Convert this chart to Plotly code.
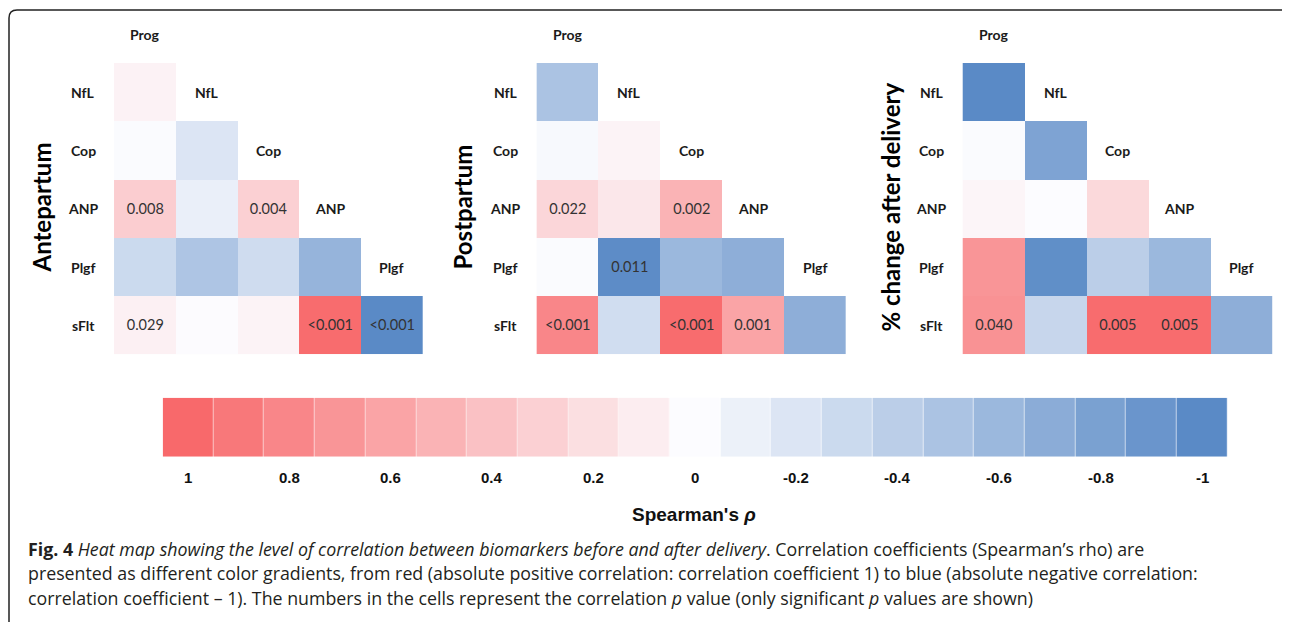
import plotly.graph_objects as go

# The page places the figure 8px in from the top-left corner; all positions
# below are given in window pixels and converted with xp()/yp().
OX, OY = 8, 8
W, H = 1290 - OX, 622 - OY

# ---------------- data ----------------
labels = ["Prog", "NfL", "Cop", "ANP", "Plgf", "sFlt"]
panel_titles = ["Antepartum", "Postpartum", "% change after delivery"]

# lower-triangle Spearman rho, rows NfL..sFlt, columns Prog..(row-1)
ante_rho = [
    [0.07],
    [-0.01, -0.20],
    [0.32, -0.11, 0.30],
    [-0.30, -0.48, -0.28, -0.63],
    [0.08, 0.01, 0.06, 0.98, -1.00],
]
ante_p = [
    [""],
    ["", ""],
    ["0.008", "", "0.004"],
    ["", "", "", ""],
    ["0.029", "", "", "<0.001", "<0.001"],
]

post_rho = [
    [-0.50],
    [-0.03, 0.06],
    [0.26, 0.14, 0.50],
    [-0.01, -0.98, -0.60, -0.68],
    [0.80, -0.27, 0.98, 0.60, -0.68],
]
post_p = [
    [""],
    ["", ""],
    ["0.022", "", "0.002"],
    ["", "0.011", "", ""],
    ["<0.001", "", "<0.001", "0.001", ""],
]

chg_rho = [
    [-1.00],
    [-0.01, -0.78],
    [0.05, 0.00, 0.24],
    [0.70, -0.96, -0.40, -0.60],
    [0.72, -0.33, 0.98, 0.98, -0.68],
]
chg_p = [
    [""],
    ["", ""],
    ["", "", ""],
    ["", "", "", ""],
    ["0.040", "", "0.005", "0.005", ""],
]

cb_values = [1.0, 0.9, 0.8, 0.7, 0.6, 0.5, 0.4, 0.3, 0.2, 0.1, 0.0,
             -0.1, -0.2, -0.3, -0.4, -0.5, -0.6, -0.7, -0.8, -0.9, -1.0]
cb_tick_labels = ["1", "0.8", "0.6", "0.4", "0.2", "0", "-0.2", "-0.4", "-0.6", "-0.8", "-1"]
cb_tick_pos = [0, 2, 4, 6, 8, 10, 12, 14, 16, 18, 20]

# ---------------- styling ----------------
BLUE, WHITE, RED = "#5A8AC6", "#FCFCFF", "#F8696B"
cscale = [[0, BLUE], [0.5, WHITE], [1, RED]]

LAB_FONT = "Lato"
CELL_FONT = "Lato"


def xp(px):
    return (px - OX) / W


def yp(py):
    return 1 - (py - OY) / H


# panel geometry in pixels: (left of column -1, right of last column)
panels = [
    (ante_rho, ante_p, (52.3, 422.7), 41),
    (post_rho, post_p, (474.8, 846.0), 462),
    (chg_rho, chg_p, (900.8, 1272.3), 890),
]
ROW_TOP, ROW_BOT = 5.1, 354.3          # top of label row, bottom of sFlt row
ROW_H = (ROW_BOT - ROW_TOP) / 6
Y_TOP = max(ROW_TOP, OY)                 # visible part starts at the figure top
Y_RANGE = [5.5, -0.5 + (Y_TOP - ROW_TOP) / ROW_H]
TITLE_Y = 207.5

fig = go.Figure()
annotations = []

for i, (rho, pv, (xl, xr), tx) in enumerate(panels):
    n = i + 1
    ax = "" if n == 1 else str(n)
    z = []
    txt = []
    for r in range(len(labels)):
        zr, tr = [], []
        for c in range(len(labels) - 1):
            if r >= 1 and c < r:
                zr.append(rho[r - 1][c])
                tr.append(pv[r - 1][c])
            else:
                zr.append(None)
                tr.append("")
        z.append(zr)
        txt.append(tr)
    fig.add_trace(go.Heatmap(
        z=z, x=list(range(len(labels) - 1)), y=list(range(len(labels))),
        text=txt, texttemplate="%{text}",
        textfont=dict(family=CELL_FONT, size=14.5, color="#333333"),
        colorscale=cscale, zmin=-1, zmax=1, showscale=False,
        hoverinfo="skip", xaxis="x" + ax, yaxis="y" + ax,
    ))
    fig.update_layout(**{
        "xaxis" + ax: dict(domain=[xp(xl), xp(xr)], range=[-1.5, 4.5],
                           visible=False, fixedrange=True),
        "yaxis" + ax: dict(domain=[yp(ROW_BOT), yp(Y_TOP)], range=Y_RANGE,
                           visible=False, fixedrange=True),
    })
    # diagonal labels
    for k in range(len(labels) - 1):
        annotations.append(dict(
            x=k, y=k, xref="x" + ax, yref="y" + ax, text="<b>%s</b>" % labels[k],
            showarrow=False, font=dict(family=LAB_FONT, size=14, color="#1a1a1a"),
            xanchor="center", yanchor="middle"))
    # row labels
    for r in range(1, len(labels)):
        annotations.append(dict(
            x=-1, y=r, xref="x" + ax, yref="y" + ax, text="<b>%s</b>" % labels[r],
            showarrow=False, font=dict(family=LAB_FONT, size=14, color="#1a1a1a"),
            xanchor="center", yanchor="middle"))
    # panel title
    annotations.append(dict(
        x=xp(tx), y=yp(TITLE_Y), xref="paper", yref="paper",
        text="<b>%s</b>" % panel_titles[i], textangle=-90, showarrow=False,
        font=dict(family=LAB_FONT, size=24, color="#000000"),
        xanchor="center", yanchor="middle"))

# ---------------- colour key ----------------
fig.add_trace(go.Heatmap(
    z=[cb_values], x=list(range(len(cb_values))), y=[0],
    colorscale=cscale, zmin=-1, zmax=1, showscale=False, hoverinfo="skip",
    xgap=0.6, xaxis="x4", yaxis="y4",
))
fig.update_layout(
    xaxis4=dict(domain=[xp(162.7), xp(1227.4)], range=[-0.5, 20.5],
                visible=False, fixedrange=True),
    yaxis4=dict(domain=[yp(456.7), yp(397.7)], range=[-0.5, 0.5],
                visible=False, fixedrange=True),
)
for pos, lab in zip(cb_tick_pos, cb_tick_labels):
    annotations.append(dict(
        x=pos, y=yp(477), xref="x4", yref="paper", text="<b>%s</b>" % lab,
        showarrow=False, font=dict(family="Liberation Sans", size=15, color="#111111"),
        xanchor="center", yanchor="middle"))
annotations.append(dict(
    x=xp(694), y=yp(514), xref="paper", yref="paper",
    text="<b>Spearman's <i>ρ</i></b>", showarrow=False,
    font=dict(family="Liberation Sans", size=19, color="#111111"),
    xanchor="center", yanchor="middle"))

# ---------------- caption ----------------
cap_lines = [
    "<b>Fig. 4</b> <i>Heat map showing the level of correlation between biomarkers before and after delivery</i>. "
    "Correlation coefficients (Spearman’s rho) are",
    "presented as different color gradients, from red (absolute positive correlation: correlation coefficient 1) "
    "to blue (absolute negative correlation:",
    "correlation coefficient – 1). The numbers in the cells represent the correlation <i>p</i> value "
    "(only significant <i>p</i> values are shown)",
]
for k, line in enumerate(cap_lines):
    annotations.append(dict(
        x=xp(26), y=yp(548.5 + 24.5 * k), xref="paper", yref="paper", text=line,
        showarrow=False, font=dict(family="Open Sans", size=17.8, color="#231f20"),
        xanchor="left", yanchor="middle", align="left"))

# ---------------- frame ----------------
x0, x1 = xp(9), xp(1289)
yt, yb = yp(10), 0
rx, ry = 8 / W, 8 / H
frame = (f"M {x0},{yb} L {x0},{yt - ry} Q {x0},{yt} {x0 + rx},{yt} "
         f"L {x1 - rx},{yt} Q {x1},{yt} {x1},{yt - ry} L {x1},{yb}")

fig.update_layout(
    width=W, height=H, margin=dict(l=0, r=0, t=0, b=0),
    paper_bgcolor="white", plot_bgcolor="white",
    annotations=annotations,
    shapes=[dict(type="path", path=frame, xref="paper", yref="paper",
                 line=dict(color="#222222", width=1.5))],
    showlegend=False,
)

fig.write_html("out.html")
